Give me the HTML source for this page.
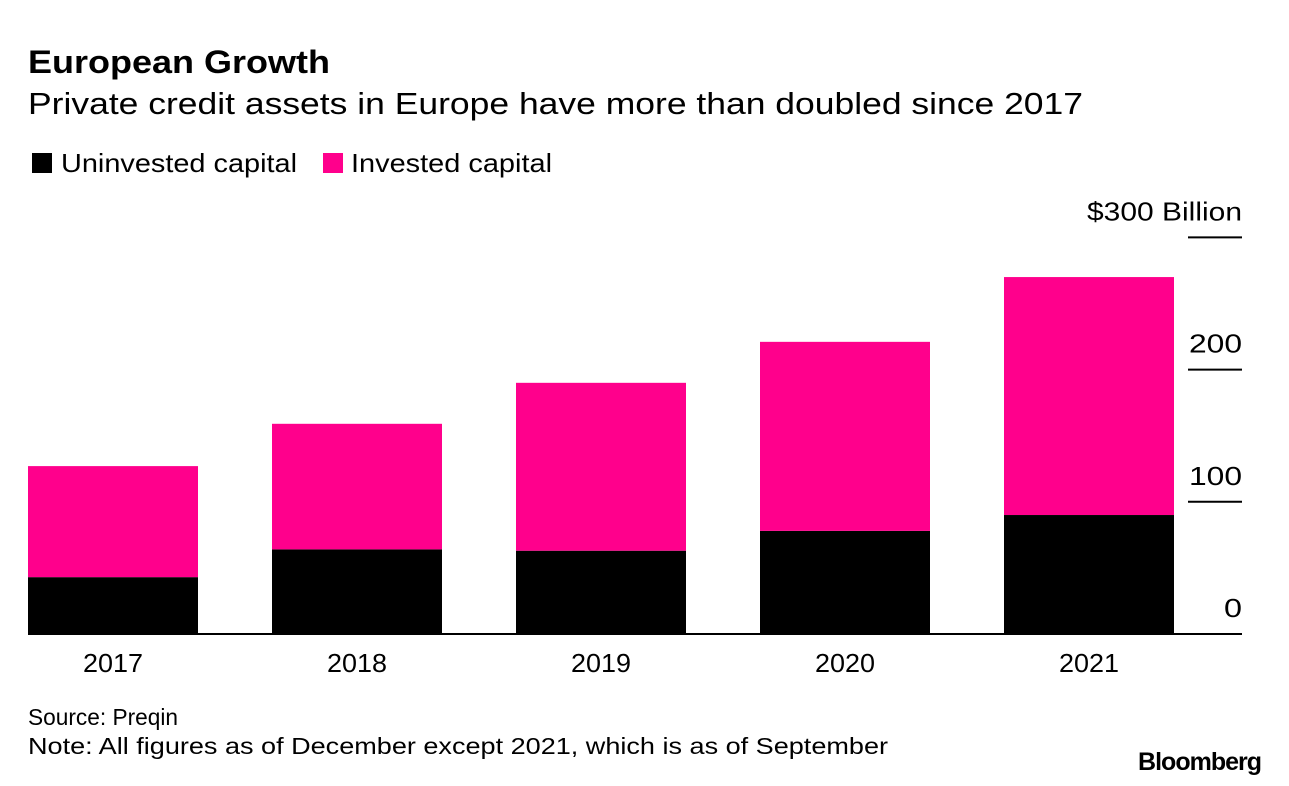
<!DOCTYPE html>
<html><head><meta charset="utf-8"><style>
body{margin:0;background:#fff;font-family:"Liberation Sans",Arial,sans-serif;}
#wrap{position:relative;width:1289px;height:786px;overflow:hidden;}
</style></head><body><div id="wrap">
<svg width="1289" height="786" xmlns="http://www.w3.org/2000/svg" id="svg">
<text x="28" y="73" font-size="32" font-weight="bold" fill="#000" textLength="302" lengthAdjust="spacingAndGlyphs">European Growth</text>
<text x="28" y="114" font-size="31" fill="#000" textLength="1055" lengthAdjust="spacingAndGlyphs">Private credit assets in Europe have more than doubled since 2017</text>
<rect x="32" y="153" width="20" height="20" fill="#000"/>
<text x="61" y="172" font-size="26" textLength="236" lengthAdjust="spacingAndGlyphs">Uninvested capital</text>
<rect x="323" y="153" width="20" height="20" fill="#ff008c"/>
<text x="351" y="172" font-size="26" textLength="201" lengthAdjust="spacingAndGlyphs">Invested capital</text>
<g id="bars"></g><g id="axis"></g>
<text x="28" y="725" font-size="23" textLength="150" lengthAdjust="spacingAndGlyphs">Source: Preqin</text>
<text x="28" y="754" font-size="23" textLength="860" lengthAdjust="spacingAndGlyphs">Note: All figures as of December except 2021, which is as of September</text>
<text x="1261" y="770" font-size="25" font-weight="bold" text-anchor="end" letter-spacing="-1">Bloomberg</text>
</svg></div>
<script>
const categories=["2017","2018","2019","2020","2021"];
const uninvested=[43,64,63,78,90];
const invested=[84,95,127,143,180];
const tickValues=[0,100,200,300];
const tickLabels=["0","100","200","$300 Billion"];
const tickWidths=[18,53,53,155];
const NS="http://www.w3.org/2000/svg";
const y0=634,pxPer=1.322;
const yScale=v=>y0-v*pxPer;
const xStart=28,step=244,bw=170;
const xScale=i=>xStart+i*step;
const bars=document.getElementById('bars'),axis=document.getElementById('axis');
function mk(tag,attrs,parent){const e=document.createElementNS(NS,tag);for(const k in attrs)e.setAttribute(k,attrs[k]);parent.appendChild(e);return e;}
categories.forEach((c,i)=>{
  const x=xScale(i);
  const r1=mk('rect',{x:x,y:yScale(uninvested[i]),width:bw,height:y0-yScale(uninvested[i]),fill:'#000'},bars);
  
  
  const tot=uninvested[i]+invested[i];
  const r2=mk('rect',{x:x,y:yScale(tot),width:bw,height:yScale(uninvested[i])-yScale(tot),fill:'#ff008c'},bars);
  
  
  const t=mk('text',{x:x+bw/2,y:672,'font-size':26,'text-anchor':'middle',textLength:60,lengthAdjust:'spacingAndGlyphs'},axis);
  t.textContent=c;
  
  
});
tickValues.forEach((v,i)=>{
  const y=yScale(v);
  if(v>0){
    const l=mk('line',{x1:1188,x2:1242,y1:y,y2:y,stroke:'#000','stroke-width':2},axis);
    
    
  }
  const t=mk('text',{x:1242,y:y-17,'font-size':26,'text-anchor':'end',textLength:tickWidths[i],lengthAdjust:'spacingAndGlyphs'},axis);
  t.textContent=tickLabels[i];
  
  
});
const base=mk('line',{x1:28,x2:1242,y1:y0,y2:y0,stroke:'#000','stroke-width':2},axis);


</script></body></html>
